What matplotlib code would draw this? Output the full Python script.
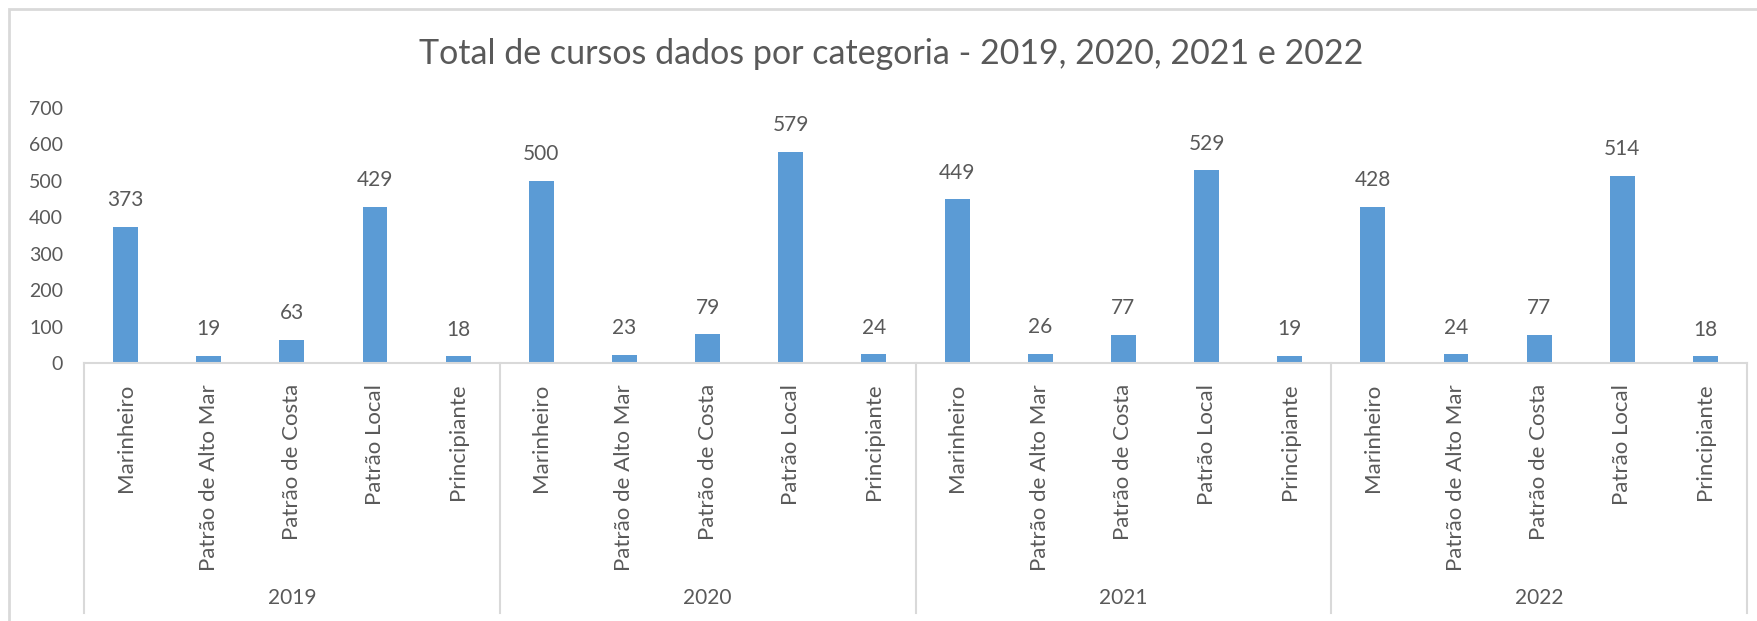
import numpy as np
import matplotlib
matplotlib.use('Agg')
import matplotlib.pyplot as plt
from matplotlib.patches import Rectangle

plt.rcParams['font.family'] = ['Lato', 'DejaVu Sans']

years = ['2019', '2020', '2021', '2022']
categories = ['Marinheiro', 'Patrão de Alto Mar', 'Patrão de Costa', 'Patrão Local', 'Principiante']
values_2019 = [373, 19, 63, 429, 18]
values_2020 = [500, 23, 79, 579, 24]
values_2021 = [449, 26, 77, 529, 19]
values_2022 = [428, 24, 77, 514, 18]
yticks = [0, 100, 200, 300, 400, 500, 600, 700]

all_values = values_2019 + values_2020 + values_2021 + values_2022
labels = categories * len(years)

txt = '#595959'
line_c = '#D9D9D9'
bar_c = '#5B9BD5'

W, H = 1758, 621
fig = plt.figure(figsize=(W/100, H/100), dpi=100)

# chart border (only top and left are visible in the crop)
fig.add_artist(Rectangle((9/W, -0.1), 1.2, (H-9)/H + 0.1, transform=fig.transFigure,
                         fill=False, edgecolor=line_c, lw=2))

ax = fig.add_axes([84/W, 1-363/H, (1747-84)/W, (363-108)/H])
x = np.arange(len(all_values))
bars = ax.bar(x, all_values, width=0.3, color=bar_c)
ax.set_xlim(-0.5, len(all_values)-0.5)
ax.set_ylim(0, 700)

for xi, v in zip(x, all_values):
    ax.annotate(str(v), (xi, v), xytext=(0, 12), textcoords='offset points',
                ha='center', va='bottom', fontsize=15, color=txt)

for s in ['top', 'right', 'left']:
    ax.spines[s].set_visible(False)
ax.spines['bottom'].set_color(line_c)
ax.spines['bottom'].set_linewidth(1.5)

ax.set_yticks(yticks)
ax.tick_params(axis='y', length=0, pad=15, labelsize=14, labelcolor=txt)
ax.set_xticks(x)
ax.set_xticklabels(labels, rotation=90, va='top', ha='center')
ax.tick_params(axis='x', length=0, pad=15, labelsize=16, labelcolor=txt)

# group separators and year labels
trans = ax.get_xaxis_transform()
sep_bottom = -(613-363)/(363-108)
n = len(categories)
for g in range(len(years)+1):
    xs = g*n - 0.5
    ax.plot([xs, xs], [0, sep_bottom], transform=trans, color=line_c, lw=1.5, clip_on=False)
for g, yr in enumerate(years):
    ax.text(g*n + (n-1)/2, -(598-363)/(363-108), yr, transform=trans,
            ha='center', va='center', fontsize=15, color=txt)

fig.text(891/W, 1-54/H, 'Total de cursos dados por categoria - 2019, 2020, 2021 e 2022',
         ha='center', va='center', fontsize=24.5, color=txt)

fig.savefig('out.png', dpi=100)
